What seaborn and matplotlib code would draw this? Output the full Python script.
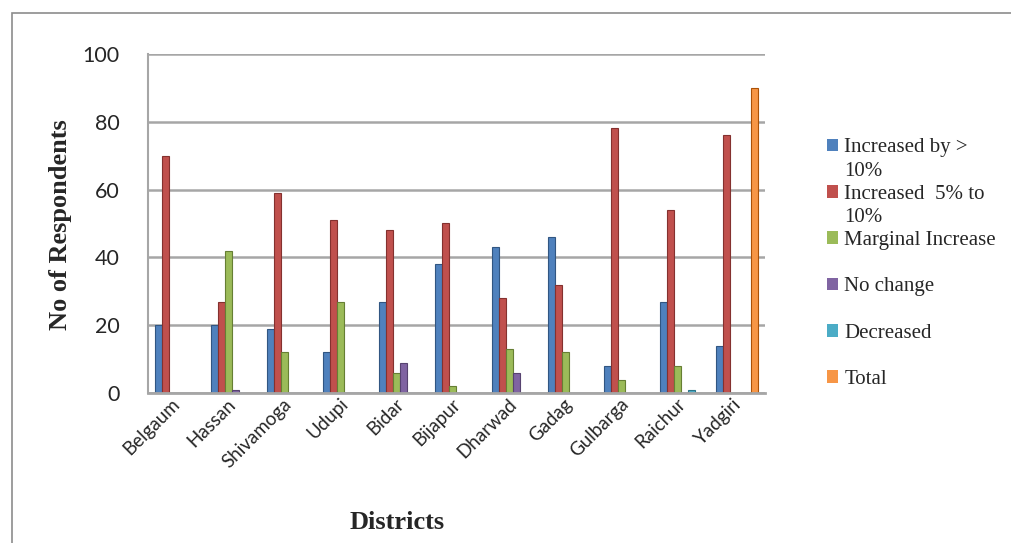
import matplotlib
matplotlib.use("Agg")
import matplotlib.pyplot as plt
import matplotlib.transforms as mtransforms
import seaborn as sns
import pandas as pd
from matplotlib.patches import Rectangle

districts = ["Belgaum", "Hassan", "Shivamoga", "Udupi", "Bidar", "Bijapur",
             "Dharwad", "Gadag", "Gulbarga", "Raichur", "Yadgiri"]
series = ["Increased by > 10%", "Increased  5% to 10%", "Marginal Increase",
          "No change", "Decreased", "Total"]
# legend lines as wrapped in the original (None = no colour key on that line)
legend_lines = [("Increased by >", 0), ("10%", None), ("Increased  5% to", 1),
                ("10%", None), ("Marginal Increase", 2), ("", None),
                ("No change", 3), ("", None), ("Decreased", 4), ("", None),
                ("Total", 5)]
increased_10 = [20, 20, 19, 12, 27, 38, 43, 46, 8, 27, 14]
increased_5_10 = [70, 27, 59, 51, 48, 50, 28, 32, 78, 54, 76]
marginal = [0, 42, 12, 27, 6, 2, 13, 12, 4, 8, 0]
no_change = [0, 1, 0, 0, 9, 0, 6, 0, 0, 0, 0]
decreased = [0, 0, 0, 0, 0, 0, 0, 0, 0, 1, 0]
total = [0, 0, 0, 0, 0, 0, 0, 0, 0, 0, 90]
colors = ["#4F81BD", "#C0504D", "#9BBB59", "#8064A2", "#4BACC6", "#F79646"]

# long format table for seaborn
rows = []
for name, vals in zip(series, [increased_10, increased_5_10, marginal,
                               no_change, decreased, total]):
    for d, v in zip(districts, vals):
        rows.append({"District": d, "Series": name, "Value": v})
df = pd.DataFrame(rows)

sns.set_style("white")
fig = plt.figure(figsize=(10.11, 5.43), dpi=100)
ax = fig.add_axes([0.146, 0.276, 0.611, 0.625])

sns.barplot(data=df, x="District", y="Value", hue="Series", palette=colors,
            width=0.75, ax=ax, saturation=1, legend=False)

# darker edges per series
for cont, c in zip(ax.containers, colors):
    for bar in cont:
        bar.set_edgecolor(sns.set_hls_values(c, l=0.35))
        bar.set_linewidth(0.8)

ax.set_ylim(0, 100)
ax.set_yticks([0, 20, 40, 60, 80, 100])
ax.yaxis.grid(True, color="#A6A6A6", linewidth=1.8)
ax.set_axisbelow(True)
for s in ["top", "right"]:
    ax.spines[s].set_visible(False)
ax.spines["left"].set_color("#A6A6A6")
ax.spines["left"].set_linewidth(1.5)
ax.spines["bottom"].set_color("#A6A6A6")
ax.spines["bottom"].set_linewidth(2)
ax.tick_params(axis="y", length=8, color="#A6A6A6", width=1.5, pad=12,
               labelsize=15.5)
ax.tick_params(axis="x", length=0, pad=3, labelsize=13.5)
for t in ax.get_yticklabels() + ax.get_xticklabels():
    t.set_fontfamily("Lato")
plt.setp(ax.get_xticklabels(), rotation=45, ha="right", rotation_mode="anchor")
shift = mtransforms.ScaledTranslation(-5 / 100, 2 / 100, fig.dpi_scale_trans)
for t in ax.get_xticklabels():
    t.set_transform(t.get_transform() + shift)

ax.set_xlabel("")
ax.set_ylabel("")
fig.text(0.06, 0.587, "No of Respondents", rotation=90, ha="center", va="center",
         family="Liberation Serif", fontweight="bold", fontsize=19)
fig.text(0.393, 0.037, "Districts", ha="center", va="center",
         family="Liberation Serif", fontweight="bold", fontsize=19)

handles = []
for text, idx in legend_lines:
    if idx is None:
        handles.append(Rectangle((0, 0), 1, 1, alpha=0))
    else:
        handles.append(Rectangle((0, 0), 1, 1, facecolor=colors[idx], linewidth=0))
ax.legend(handles, [t for t, _ in legend_lines], loc="upper left",
          bbox_to_anchor=(1.086, 0.775), frameon=False,
          prop={"family": "Liberation Serif", "size": 15},
          handlelength=0.55, handleheight=0.55, handletextpad=0.3,
          labelspacing=0.2, borderaxespad=0)

# chart area border
fig.patches.append(Rectangle((0.0115, -0.1), 1.1, 1.076, transform=fig.transFigure,
                             fill=False, edgecolor="#8C8C8C", linewidth=1.2))

fig.savefig("out.png", dpi=100)
